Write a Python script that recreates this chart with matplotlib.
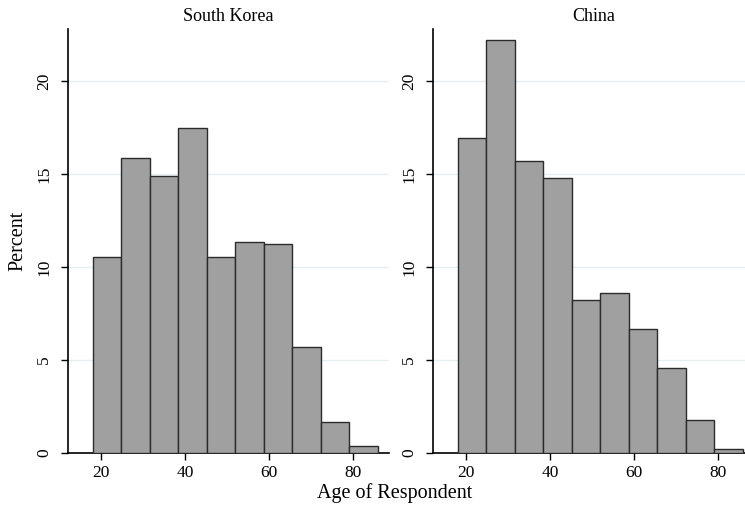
import matplotlib
matplotlib.use("Agg")
import matplotlib.pyplot as plt
import numpy as np

plt.rcParams['font.family'] = ['Liberation Serif', 'DejaVu Serif']

panels = ["South Korea", "China"]
bin_edges = [18.0, 24.8, 31.6, 38.4, 45.2, 52.0, 58.8, 65.6, 72.4, 79.2, 86.0]
korea_pct = [10.54, 15.85, 14.88, 17.47, 10.54, 11.33, 11.24, 5.71, 1.64, 0.34]
china_pct = [16.95, 22.21, 15.72, 14.78, 8.21, 8.62, 6.66, 4.54, 1.74, 0.22]
x_ticks = [20, 40, 60, 80]
y_ticks = [0, 5, 10, 15, 20]
x_label = "Age of Respondent"
y_label = "Percent"

W, H = 745, 512
fig = plt.figure(figsize=(W / 100, H / 100), dpi=100)

ax_w = (389.3 - 67.7) / W
ax_b = 1 - 452.7 / H
ax_h = (452.7 - 29.3) / H
lefts = [67.7 / W, 432.7 / W]

for left, title, vals in zip(lefts, panels, [korea_pct, china_pct]):
    ax = fig.add_axes([left, ax_b, ax_w, ax_h])
    edges = np.array(bin_edges)
    widths = np.diff(edges)
    ax.bar(edges[:-1], vals, width=widths, align='edge', color='#a0a0a0',
           edgecolor='#2b2b2b', linewidth=1.0, zorder=3)
    ax.set_xlim(12.06, 88.7)
    ax.set_ylim(0, 22.8)
    ax.set_xticks(x_ticks)
    ax.set_yticks(y_ticks)
    ax.set_yticklabels([str(v) for v in y_ticks], rotation=90, va='center')
    for yv in y_ticks[1:]:
        ax.axhline(yv, color='#e6eef0', linewidth=1.0, zorder=1)
    for s in ['top', 'right']:
        ax.spines[s].set_visible(False)
    for s in ['left', 'bottom']:
        ax.spines[s].set_linewidth(1.2)
        ax.spines[s].set_color('black')
    ax.tick_params(axis='both', direction='out', length=5, width=1.0,
                   labelsize=12.5, colors='black')
    ax.tick_params(axis='y', pad=6)
    ax.tick_params(axis='x', pad=4)
    ax.set_title(title, fontsize=13, pad=6)

fig.text(395 / W, 1 - 493 / H, x_label, ha='center', va='center', fontsize=14.5)
fig.text(18 / W, 1 - 241 / H, y_label, ha='center', va='center', rotation=90, fontsize=14.5)

fig.savefig("out.png", dpi=100)
